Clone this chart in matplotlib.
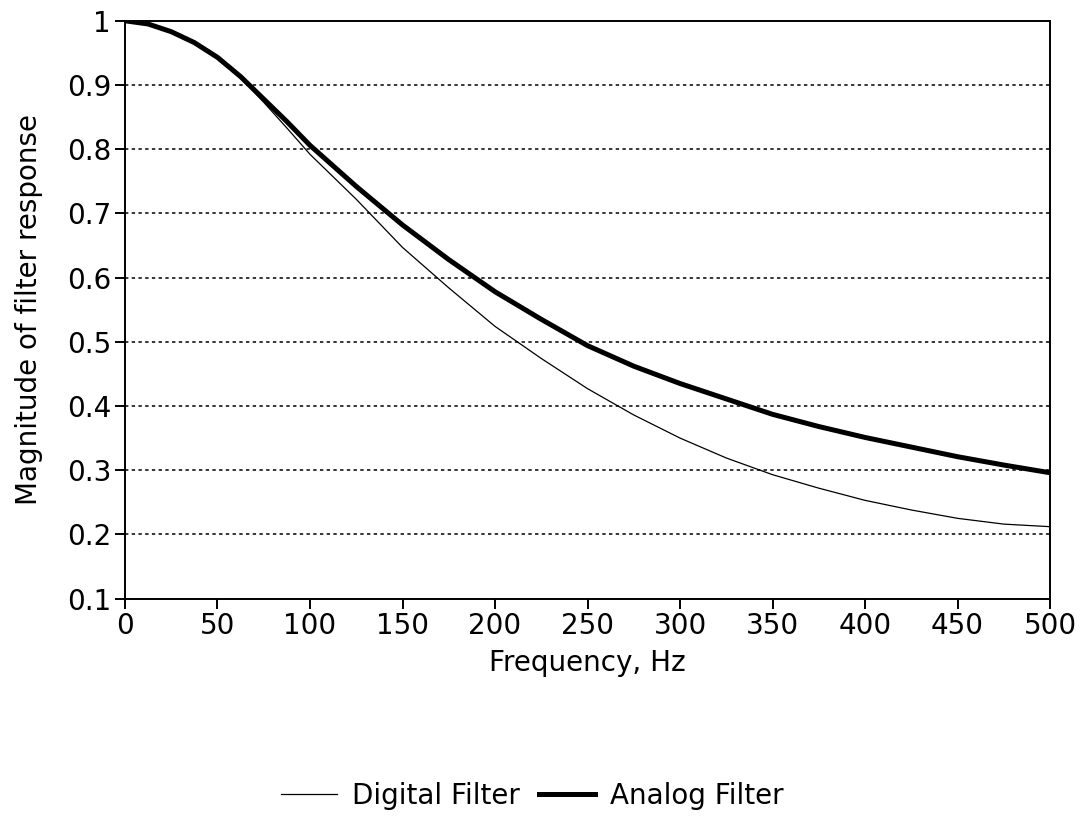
import matplotlib
matplotlib.use('Agg')
import matplotlib.pyplot as plt

plt.rcParams['font.family'] = ['DejaVu Sans']

# frequency grid (Hz) and magnitudes
freq = [0, 12.5, 25, 37.5, 50, 62.5, 75, 87.5, 100, 125, 150, 175, 200, 225, 250, 275,
        300, 325, 350, 375, 400, 425, 450, 475, 500]
digital = [1.0, 0.995, 0.983, 0.966, 0.942, 0.911, 0.873, 0.833, 0.792, 0.722, 0.647, 0.584,
           0.524, 0.474, 0.427, 0.386, 0.35, 0.319, 0.293, 0.272, 0.253, 0.238, 0.225, 0.216, 0.212]
analog = [1.0, 0.995, 0.983, 0.966, 0.943, 0.913, 0.878, 0.843, 0.806, 0.742, 0.682, 0.628,
          0.578, 0.535, 0.494, 0.462, 0.435, 0.411, 0.387, 0.368, 0.351, 0.336, 0.321, 0.308, 0.296]

xticks = [0, 50, 100, 150, 200, 250, 300, 350, 400, 450, 500]
yticks = [0.1, 0.2, 0.3, 0.4, 0.5, 0.6, 0.7, 0.8, 0.9, 1.0]
ytick_labels = ['0.1', '0.2', '0.3', '0.4', '0.5', '0.6', '0.7', '0.8', '0.9', '1']

fs = 20
fig = plt.figure(figsize=(10.82, 8.21), dpi=100)
ax = fig.add_axes([0.1155, 0.2709, 0.855, 0.7038])

# dotted horizontal grid (no line at 0.1 / 1)
for y in yticks[1:-1]:
    ax.axhline(y, color='black', lw=1.1, linestyle=(0, (2.2, 2.2)), zorder=1)

ax.plot(freq, digital, color='black', lw=0.9, label='Digital Filter', zorder=3)
ax.plot(freq, analog, color='black', lw=3.6, label='Analog Filter', zorder=3)

ax.set_xlim(0, 500)
ax.set_ylim(0.1, 1.0)
ax.set_xticks(xticks)
ax.set_yticks(yticks)
ax.set_yticklabels(ytick_labels)
ax.tick_params(direction='out', length=7, width=1.4, labelsize=fs, color='black', pad=3)
for s in ax.spines.values():
    s.set_linewidth(1.4)

ax.set_xlabel('Frequency, Hz', fontsize=fs, labelpad=6)
ax.set_ylabel('Magnitude of filter response', fontsize=fs, labelpad=17)

fig.legend(loc='center', bbox_to_anchor=(0.492, 0.031), ncol=2, frameon=False,
           fontsize=fs, handlelength=2.0, columnspacing=0.7, handletextpad=0.55)

plt.savefig('out.png', dpi=100)
